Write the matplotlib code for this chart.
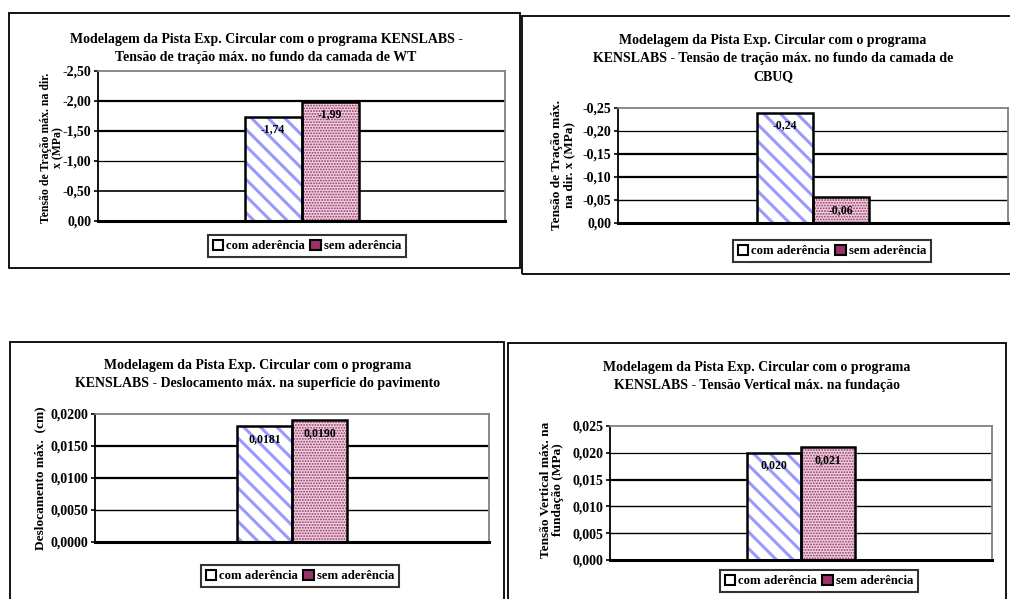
import matplotlib
matplotlib.use("Agg")
import matplotlib.pyplot as plt
from matplotlib.patches import Rectangle, Patch

plt.rcParams['font.family'] = ['Liberation Serif', 'DejaVu Serif']
plt.rcParams['font.weight'] = 'bold'

W, H = 1010, 599

series_names = ['com aderência', 'sem aderência']

titles = [
    ['Modelagem da Pista Exp. Circular com o programa KENSLABS -',
     'Tensão de tração máx. no fundo da camada de WT'],
    ['Modelagem da Pista Exp. Circular com o programa',
     'KENSLABS - Tensão de tração máx. no fundo da camada de',
     'CBUQ'],
    ['Modelagem da Pista Exp. Circular com o programa',
     'KENSLABS - Deslocamento máx. na superficie do pavimento'],
    ['Modelagem da Pista Exp. Circular com o programa',
     'KENSLABS - Tensão Vertical máx. na fundação'],
]
ylabels = [
    'Tensão de Tração máx. na dir.\nx (MPa)',
    'Tensão de Tração máx.\nna dir. x (MPa)',
    'Deslocamento máx.  (cm)',
    'Tensão Vertical máx. na\nfundação (MPa)',
]

# values per panel: [com aderência, sem aderência]
values_wt = [-1.74, -1.99]
values_cbuq = [-0.24, -0.056]
values_desloc = [0.0181, 0.0190]
values_fund = [0.020, 0.021]

yticks_wt = [0.0, -0.5, -1.0, -1.5, -2.0, -2.5]
yticks_cbuq = [0.0, -0.05, -0.10, -0.15, -0.20, -0.25]
yticks_desloc = [0.0, 0.005, 0.010, 0.015, 0.020]
yticks_fund = [0.0, 0.005, 0.010, 0.015, 0.020, 0.025]

decimals = [2, 2, 4, 3]

# layout in pixels (left, top, right, bottom)
frames = [(9, 13, 520, 268), (522, 16, 1020, 274), (10, 342, 504, 620), (508, 343, 1006, 620)]
plot_areas = [(98, 71, 505, 221), (618, 108, 1008, 223), (95, 414, 489, 542), (610, 426, 992, 560)]
bar_px = [57, 56, 55, 54]
title_pos = [(266, 48), (773, 58.5), (258, 375), (757, 376.5)]
ylabel_pos = [(52, 148), (563, 165), (40, 478), (552, 490)]
ylabel_size = [8.5, 9.5, 9.6, 9.6]
legend_pos = [(307, 246), (832, 251), (300, 576), (819, 581)]
grid_widths = [[1.2, 0.9, 1.6, 1.6], [1.0, 1.6, 1.6, 0.9], [1.0, 1.6, 1.6], [1.0, 1.0, 1.6, 0.9]]

panels = [
    (values_wt, yticks_wt, True),
    (values_cbuq, yticks_cbuq, True),
    (values_desloc, yticks_desloc, False),
    (values_fund, yticks_fund, False),
]


def fx(x):
    return x / W


def fy(y):
    return 1 - y / H


fig = plt.figure(figsize=(W / 100, H / 100), dpi=100)

for i, (vals, ticks, inverted) in enumerate(panels):
    l, t, r, b = frames[i]
    fig.patches.append(Rectangle((fx(l), fy(b)), fx(r - l), (b - t) / H, transform=fig.transFigure,
                                 fill=False, edgecolor='black', linewidth=1.3))

    pl, pt, pr, pb = plot_areas[i]
    ax = fig.add_axes([fx(pl), fy(pb), fx(pr - pl), (pb - pt) / H])
    bw = bar_px[i] / (pr - pl)
    xs = [-bw / 2, bw / 2]

    ymax = min(ticks) if inverted else max(ticks)
    ax.set_ylim(0, ymax)
    ax.set_xlim(-0.5, 0.5)
    ax.set_yticks(ticks)
    ax.set_yticklabels([('%.*f' % (decimals[i], v)).replace('.', ',') for v in ticks])
    ax.set_xticks([])
    ax.tick_params(axis='y', direction='out', length=3, width=1.2, labelsize=10, pad=2)

    inner = [v for v in ticks if v != 0 and v != ymax]
    inner = sorted(inner, key=abs)
    for v, lw in zip(inner, grid_widths[i]):
        ax.axhline(v, color='black', linewidth=lw, zorder=1)

    for s in ['top', 'right']:
        ax.spines[s].set_color('#808080')
        ax.spines[s].set_linewidth(1.3)
    ax.spines['left'].set_linewidth(1.3)
    ax.spines['bottom'].set_linewidth(2.2)

    plt.rcParams['hatch.linewidth'] = 2.2
    ax.bar(xs[0], vals[0], width=bw, facecolor='white', edgecolor='#9999FF', hatch='\\\\',
           linewidth=0, zorder=2)
    plt.rcParams['hatch.linewidth'] = 0.9
    ax.bar(xs[1], vals[1], width=bw, facecolor='#ecd2de', edgecolor='#993366', hatch='......',
           linewidth=0, zorder=2)
    ax.bar(xs, vals, width=bw, fill=False, edgecolor='black', linewidth=1.8, zorder=3)

    for x, v in zip(xs, vals):
        ax.annotate(('%.*f' % (decimals[i], v)).replace('.', ','), (x, v),
                    xytext=(0, -9), textcoords='offset points', ha='center', va='center',
                    fontsize=8.5, fontweight='bold', zorder=4)

    tx, ty = title_pos[i]
    fig.text(fx(tx), fy(ty), '\n'.join(titles[i]), ha='center', va='center', fontsize=10,
             fontweight='bold', linespacing=1.5)
    lx, ly = ylabel_pos[i]
    fig.text(fx(lx), fy(ly), ylabels[i], ha='center', va='center', rotation=90,
             fontsize=ylabel_size[i], fontweight='bold', linespacing=1.1)

    handles = [Patch(facecolor='white', edgecolor='black', linewidth=1.5),
               Patch(facecolor='#993366', edgecolor='black', linewidth=1.5)]
    gx, gy = legend_pos[i]
    leg = ax.legend(handles, series_names, loc='center', bbox_to_anchor=(fx(gx), fy(gy)),
                    bbox_transform=fig.transFigure, ncol=2, fontsize=9.2, frameon=True,
                    fancybox=False, borderpad=0.35, handlelength=0.8, handleheight=0.8,
                    handletextpad=0.25, columnspacing=0.4, borderaxespad=0)
    leg.get_frame().set_edgecolor('black')
    leg.get_frame().set_linewidth(1.5)

fig.savefig('out.png', dpi=100)
